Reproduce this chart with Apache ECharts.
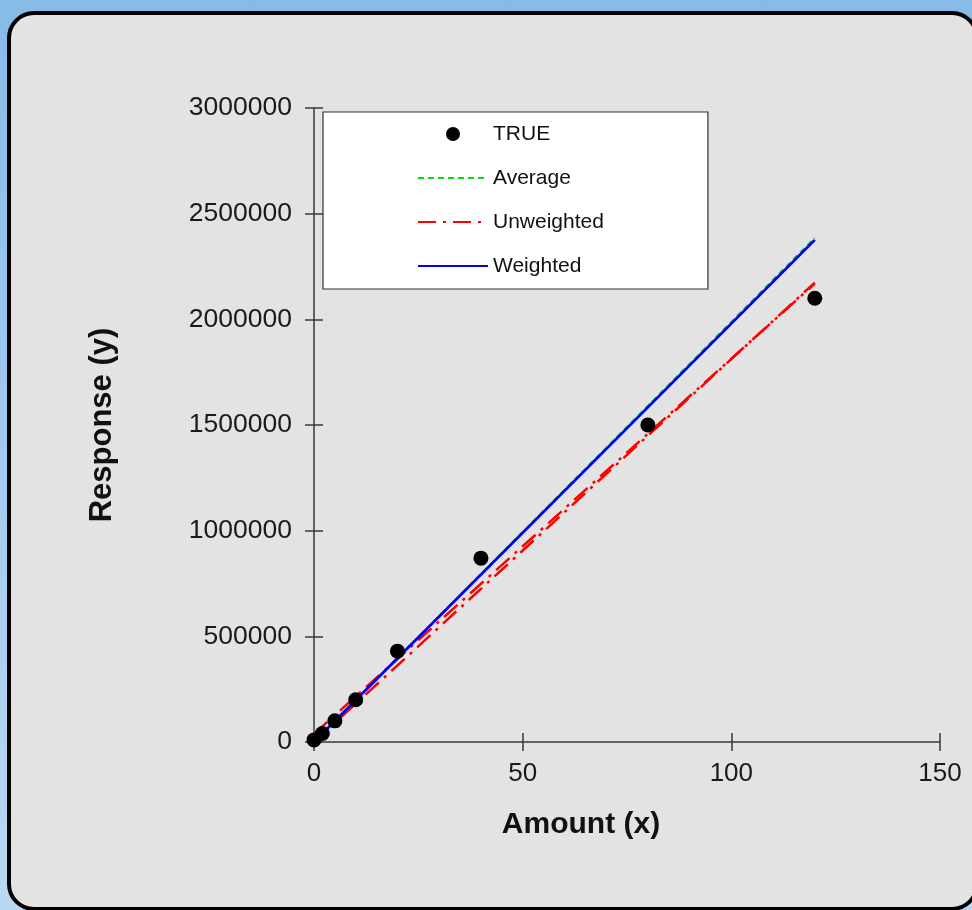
<!DOCTYPE html>
<html>
<head>
<meta charset="utf-8">
<script src="https://cdn.jsdelivr.net/npm/echarts@6/dist/echarts.min.js"></script>
<style>
  html, body { margin:0; padding:0; width:972px; height:910px; overflow:hidden;
    background: linear-gradient(to bottom, #86bbe8 0%, #a7cdf0 60%, #b9d8f3 100%); }
  #panel { position:absolute; left:7px; top:11px; width:972px; height:900px; box-sizing:border-box;
    background:#e3e3e3; border:4px solid #000; border-radius:27px; }
  #chart { position:absolute; left:0; top:0; width:972px; height:910px; }
</style>
</head>
<body>
<div id="panel"></div>
<div id="chart"></div>
<script>
// Data
const trueX = [0, 2, 5, 10, 20, 40, 80, 120];
const trueY = [10000, 40000, 100000, 200000, 430000, 870000, 1500000, 2100000];
const lineX = [0, 120];
const averageY = [0, 2386000];
const weightedY = [0, 2376000];
const unweightedAY = [38000, 2169000];
const unweightedBY = [0, 2174000];
const xTicks = { min: 0, max: 150, interval: 50 };
const yTicks = { min: 0, max: 3000000, interval: 500000 };

const pair = (xs, ys) => xs.map((x, i) => [x, ys[i]]);
const FONT = 'Liberation Sans, Arial, sans-serif';
const axisCol = '#3a3a3a';

const chart = echarts.init(document.getElementById('chart'), null, { renderer: 'canvas' });
chart.setOption({
  backgroundColor: 'transparent',
  animation: false,
  grid: { left: 314, right: 32, top: 108, bottom: 168, containLabel: false },
  legend: {
    orient: 'vertical', left: 323, top: 112,
    padding: [11, 104, 12, 94],
    backgroundColor: '#ffffff', borderColor: '#333333', borderWidth: 1.2,
    itemWidth: 70, itemHeight: 14, itemGap: 22,
    textStyle: { fontFamily: FONT, fontSize: 21, color: '#111', lineHeight: 22 },
    data: [
      { name: 'TRUE' },
      { name: 'Average', itemStyle: { opacity: 0 } },
      { name: 'Unweighted', itemStyle: { opacity: 0 } },
      { name: 'Weighted', itemStyle: { opacity: 0 } }
    ]
  },
  xAxis: [{
    type: 'value', min: xTicks.min, max: xTicks.max, interval: xTicks.interval,
    name: 'Amount (x)', nameLocation: 'middle', nameGap: 68,
    nameTextStyle: { fontFamily: FONT, fontSize: 30, fontWeight: 'bold', color: '#111', padding: [0, 92, 0, 0] },
    axisLine: { show: true, onZero: false, lineStyle: { color: axisCol, width: 1.5 } },
    axisTick: { show: true, inside: false, length: 9, lineStyle: { color: axisCol, width: 1.5 } },
    axisLabel: { margin: 19, fontFamily: FONT, fontSize: 26, color: '#1a1a1a' },
    splitLine: { show: false }
  }, {
    type: 'value', position: 'bottom', min: xTicks.min, max: xTicks.max, interval: xTicks.interval,
    axisLine: { show: false }, axisLabel: { show: false }, splitLine: { show: false },
    axisTick: { show: true, inside: true, length: 9, lineStyle: { color: axisCol, width: 1.5 } }
  }],
  yAxis: [{
    type: 'value', min: yTicks.min, max: yTicks.max, interval: yTicks.interval,
    name: 'Response (y)', nameLocation: 'middle', nameGap: 196, nameRotate: 90,
    nameTextStyle: { fontFamily: FONT, fontSize: 31, fontWeight: 'bold', color: '#111' },
    axisLine: { show: true, onZero: false, lineStyle: { color: axisCol, width: 1.5 } },
    axisTick: { show: true, inside: false, length: 9, lineStyle: { color: axisCol, width: 1.5 } },
    axisLabel: { margin: 22, fontFamily: FONT, fontSize: 26.5, color: '#1a1a1a',
      formatter: v => String(v) },
    splitLine: { show: false }
  }, {
    type: 'value', position: 'left', min: yTicks.min, max: yTicks.max, interval: yTicks.interval,
    axisLine: { show: false }, axisLabel: { show: false }, splitLine: { show: false },
    axisTick: { show: true, inside: true, length: 9, lineStyle: { color: axisCol, width: 1.5 } }
  }],
  series: [
    { name: 'Average', type: 'line', data: pair(lineX, averageY), symbol: 'none', showSymbol: false, z: 2,
      lineStyle: { color: '#00e000', width: 2, type: [6, 4] }, itemStyle: { color: '#00e000' } },
    { name: 'Unweighted', type: 'line', data: pair(lineX, unweightedAY), symbol: 'none', showSymbol: false, z: 3,
      lineStyle: { color: '#ff0000', width: 2.5, type: [18, 7, 3, 7] }, itemStyle: { color: '#ff0000' } },
    { name: 'Unweighted', type: 'line', data: pair(lineX, unweightedBY), symbol: 'none', showSymbol: false, z: 3,
      lineStyle: { color: '#ff0000', width: 2.5, type: [18, 7, 3, 7] }, itemStyle: { color: '#ff0000' } },
    { name: 'Weighted', type: 'line', data: pair(lineX, weightedY), symbol: 'none', showSymbol: false, z: 4,
      lineStyle: { color: '#0000ff', width: 2.8, type: 'solid' }, itemStyle: { color: '#0000ff' } },
    { name: 'TRUE', type: 'scatter', data: pair(trueX, trueY), symbol: 'circle', symbolSize: 15, z: 5,
      itemStyle: { color: '#000000', opacity: 1 } }
  ]
});
</script>
</body>
</html>
